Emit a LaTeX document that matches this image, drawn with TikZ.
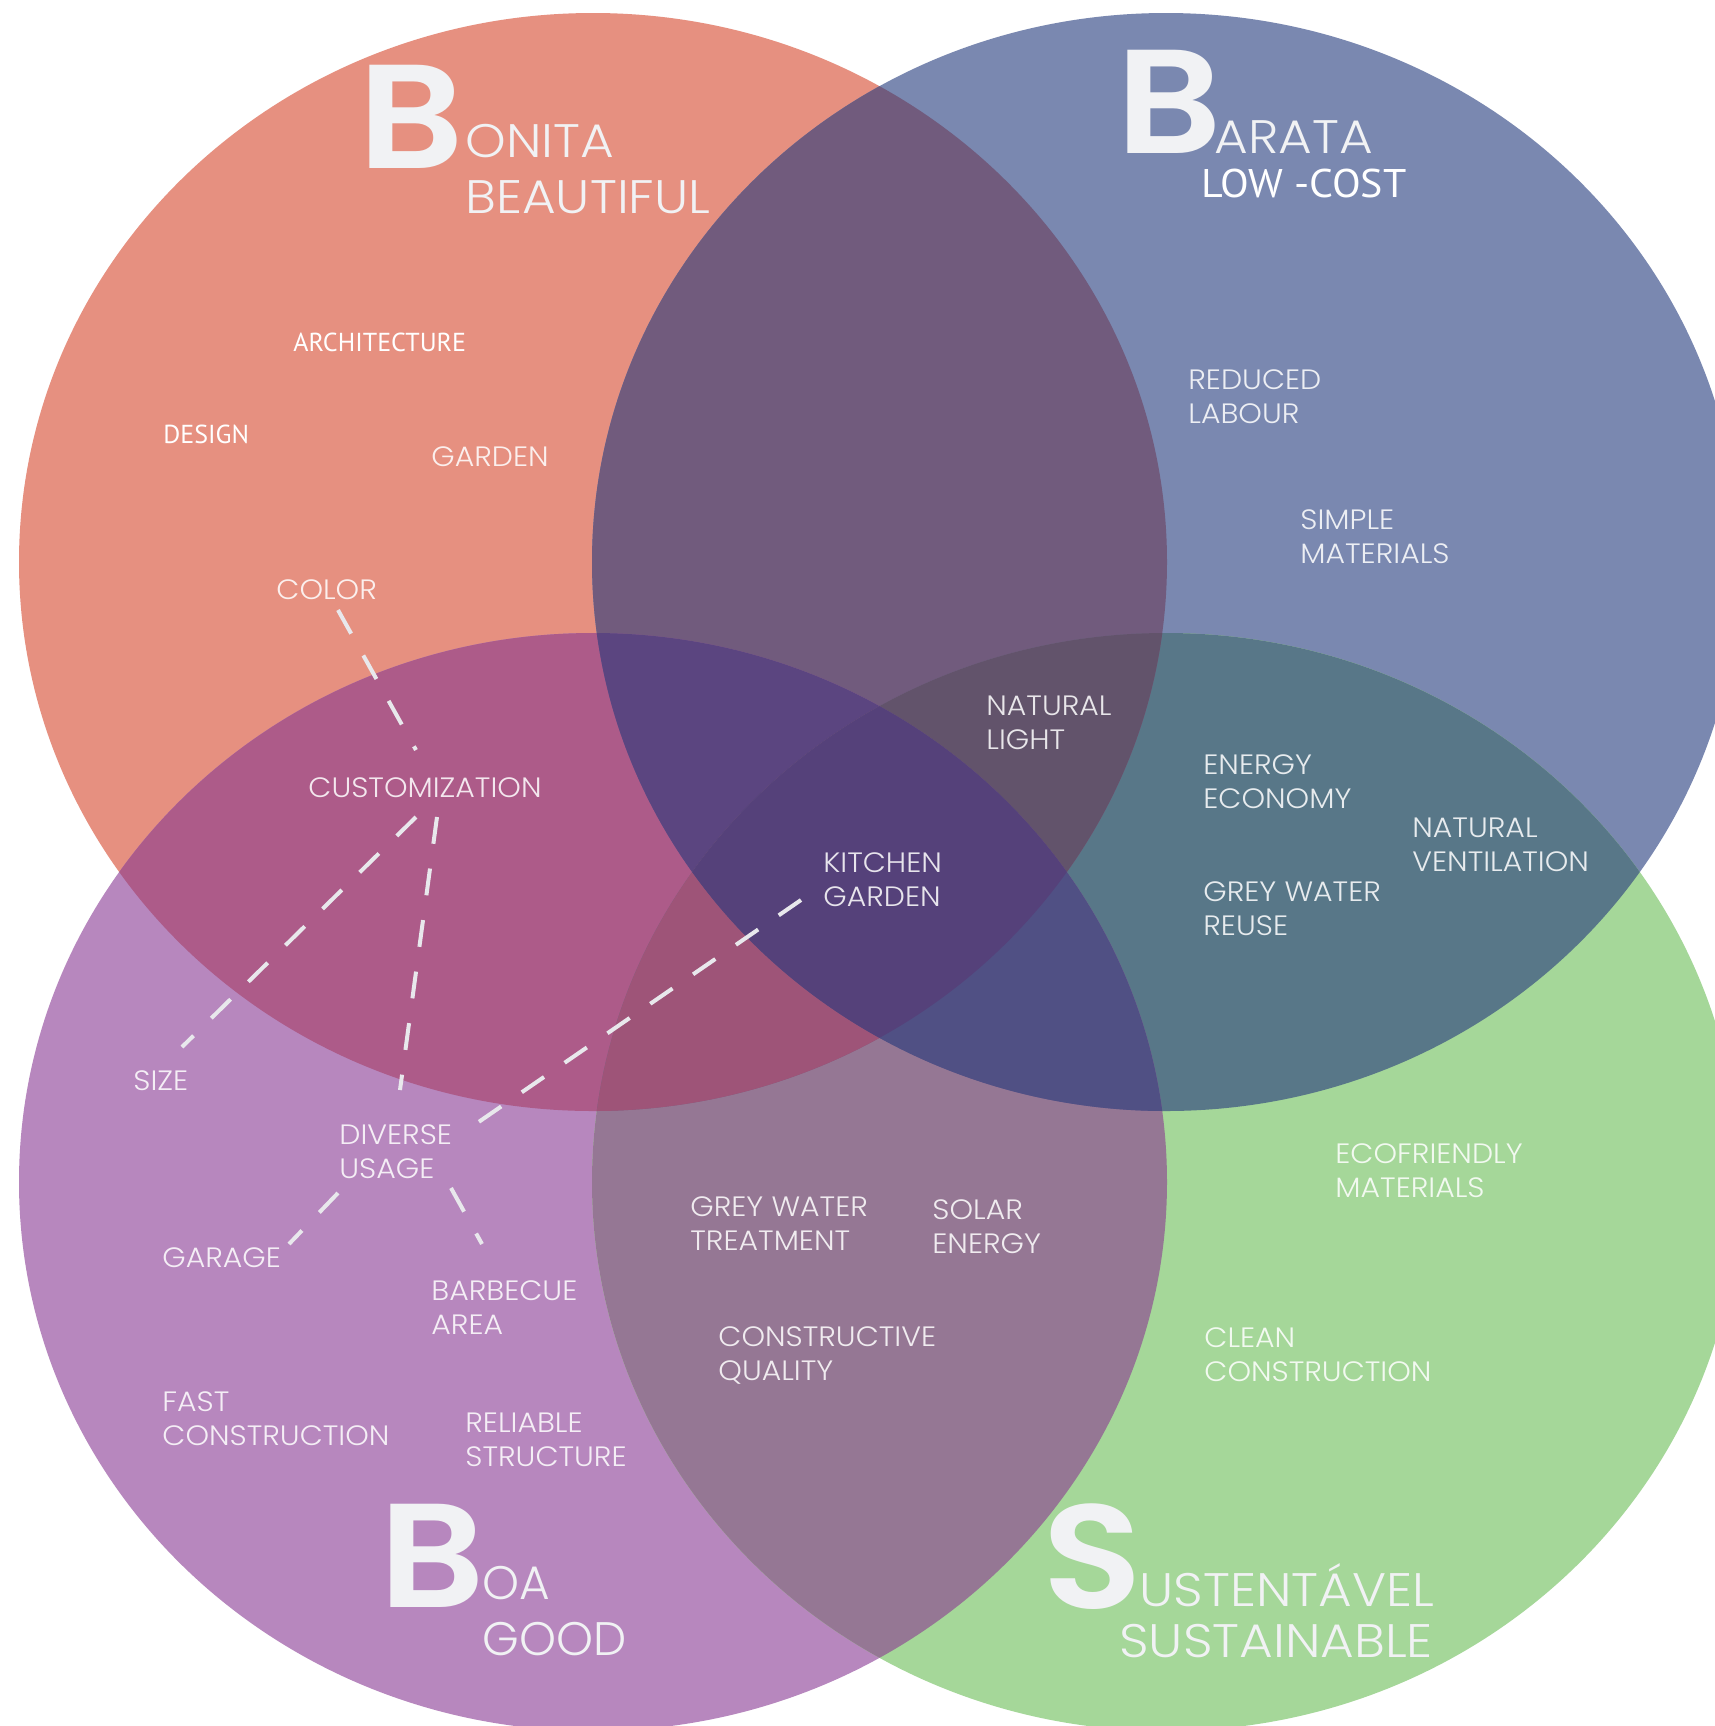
\documentclass[tikz,border=0pt]{standalone}
\usepackage{fontspec}
\newfontfamily\lightface{Poppins Light}[FakeStretch=1.07]
\newfontfamily\headface{Poppins Light}[FakeStretch=1.1]
\newfontfamily\headplain{Poppins Light}
\newfontfamily\heavyface{Poppins SemiBold}[FakeStretch=1.11]
\newfontfamily\plainface{PT Sans}
\newfontfamily\widefont{PT Sans}[FakeStretch=1.05]

% circle colours and the colours of their overlaps
\definecolor{cTL}{HTML}{E69080}
\definecolor{cTR}{HTML}{7A88B0}
\definecolor{cBL}{HTML}{B787BE}
\definecolor{cBR}{HTML}{A5D799}
\definecolor{cTLTR}{HTML}{715B7D}
\definecolor{cTLBL}{HTML}{AD5B89}
\definecolor{cTRBR}{HTML}{587788}
\definecolor{cBLBR}{HTML}{957794}
\definecolor{cTLBR}{HTML}{7E5A7E}
\definecolor{cTRBL}{HTML}{6A5A8E}
\definecolor{cTLTRBL}{HTML}{5B4580}
\definecolor{cTLTRBR}{HTML}{62536B}
\definecolor{cTLBLBR}{HTML}{9E5478}
\definecolor{cTRBLBR}{HTML}{505084}
\definecolor{cALL}{HTML}{55417A}
\definecolor{bigwhite}{HTML}{F1F2F4}
\definecolor{dashwhite}{HTML}{E8E8EC}

\newcommand\twoline[3][17pt]{\vtop{\baselineskip=#1\relax\hbox{#2}\hbox{#3}}}

% the four ellipses
\def\pTL{(593,562) ellipse [x radius=574, y radius=549]}
\def\pTR{(1166,562) ellipse [x radius=574, y radius=549]}
\def\pBL{(593,1182) ellipse [x radius=574, y radius=549]}
\def\pBR{(1166,1182) ellipse [x radius=574, y radius=549]}

\begin{document}
\begin{tikzpicture}[x=0.5pt,y=-0.5pt,
  lbl/.style={inner sep=0pt, anchor=base west, text=white, text opacity=0.86,
    font=\lightface\fontsize{14pt}{17pt}\selectfont},
  headlbl/.style={inner sep=0pt, anchor=base west, text=bigwhite,
    font=\headface\fontsize{23.5pt}{28pt}\selectfont},
  bigletter/.style={inner sep=0pt, anchor=base west, text=bigwhite,
    font=\heavyface\fontsize{74pt}{80pt}\selectfont},
  boldlbl/.style={inner sep=0pt, anchor=base west, text=white,
    font=\plainface\fontsize{13pt}{15pt}\selectfont},
  dashline/.style={draw=dashwhite, line width=2pt, dash pattern=on 13.5pt off 12.5pt}]

\useasboundingbox (0,0) rectangle (1715,1726);
\fill[white] (0,0) rectangle (1715,1726);
\clip (0,0) rectangle (1715,1726);

% single ellipses
\fill[cTL] \pTL;
\fill[cTR] \pTR;
\fill[cBL] \pBL;
\fill[cBR] \pBR;

% pairwise overlaps
\begin{scope}\clip \pTL; \fill[cTLTR] \pTR; \end{scope}
\begin{scope}\clip \pTL; \fill[cTLBL] \pBL; \end{scope}
\begin{scope}\clip \pTR; \fill[cTRBR] \pBR; \end{scope}
\begin{scope}\clip \pBL; \fill[cBLBR] \pBR; \end{scope}
\begin{scope}\clip \pTL; \fill[cTLBR] \pBR; \end{scope}
\begin{scope}\clip \pTR; \fill[cTRBL] \pBL; \end{scope}

% triple overlaps
\begin{scope}\clip \pTL; \clip \pTR; \fill[cTLTRBL] \pBL; \end{scope}
\begin{scope}\clip \pTL; \clip \pTR; \fill[cTLTRBR] \pBR; \end{scope}
\begin{scope}\clip \pTL; \clip \pBL; \fill[cTLBLBR] \pBR; \end{scope}
\begin{scope}\clip \pTR; \clip \pBL; \fill[cTRBLBR] \pBR; \end{scope}

% centre, inside all four
\begin{scope}\clip \pTL; \clip \pTR; \clip \pBL; \fill[cALL] \pBR; \end{scope}

% headings
\node[bigletter] (bB) at (358,168) {B};
\node[headlbl] (bonita) at (465,157) {\twoline[28pt]{ONITA}{BEAUTIFUL}};
\node[bigletter] (bA) at (1116,153) {B};
\node[headlbl] (barata) at (1214,153) {ARATA};
\node[inner sep=0pt, anchor=base west, text=white,
  font=\widefont\fontsize{20pt}{22pt}\selectfont] (lowcost) at (1201,197) {LOW -COST};
\node[bigletter] (bG) at (379,1607) {B};
\node[headlbl, font=\headplain\fontsize{23.5pt}{28pt}\selectfont] (boa) at (482,1599)
  {\twoline[28pt]{OA}{GOOD}};
\node[bigletter] (bS) at (1042,1608) {S};
\node[headlbl] (sustA) at (1139,1606) {USTENTÁVEL};
\node[headlbl] (sustB) at (1119,1657) {SUSTAINABLE};

% labels
\node[boldlbl] (arch) at (293,351) {ARCHITECTURE};
\node[boldlbl] (design) at (163,443) {DESIGN};
\node[lbl] (garden) at (431,466) {GARDEN};
\node[lbl] (color) at (276,599) {COLOR};
\node[lbl] (cust) at (308,797) {CUSTOMIZATION};
\node[lbl] (size) at (133,1090) {SIZE};
\node[lbl] (diverse) at (339,1144) {\twoline{DIVERSE}{USAGE}};
\node[lbl] (garage) at (162,1267) {GARAGE};
\node[lbl] (bbq) at (431,1300) {\twoline{BARBECUE}{AREA}};
\node[lbl] (fast) at (162,1411) {\twoline{FAST}{CONSTRUCTION}};
\node[lbl] (reliable) at (465,1432) {\twoline{RELIABLE}{STRUCTURE}};
\node[lbl] (reduced) at (1188,389) {\twoline{REDUCED}{LABOUR}};
\node[lbl] (simple) at (1300,529) {\twoline{SIMPLE}{MATERIALS}};
\node[lbl] (natlight) at (986,715) {\twoline{NATURAL}{LIGHT}};
\node[lbl] (energy) at (1203,774) {\twoline{ENERGY}{ECONOMY}};
\node[lbl] (natvent) at (1412,837) {\twoline{NATURAL}{VENTILATION}};
\node[lbl] (greyreuse) at (1203,901) {\twoline{GREY WATER}{REUSE}};
\node[lbl] (kitchen) at (823,872) {\twoline{KITCHEN}{GARDEN}};
\node[lbl] (greytreat) at (690,1216) {\twoline{GREY WATER}{TREATMENT}};
\node[lbl] (solar) at (932,1219) {\twoline{SOLAR}{ENERGY}};
\node[lbl] (constr) at (718,1346) {\twoline{CONSTRUCTIVE}{QUALITY}};
\node[lbl] (eco) at (1335,1163) {\twoline{ECOFRIENDLY}{MATERIALS}};
\node[lbl] (clean) at (1204,1347) {\twoline{CLEAN}{CONSTRUCTION}};

% ends of the dashed links
\coordinate (colorEnd) at (338,610);
\coordinate (custTop) at (416,750);
\coordinate (custLeft) at (416,817);
\coordinate (sizeEnd) at (182,1047);
\coordinate (custMid) at (437,817);
\coordinate (diverseTop) at (400,1090);
\coordinate (diverseRight) at (467,1130);
\coordinate (kitchenEnd) at (801,900);
\coordinate (diverseLeft) at (338,1193);
\coordinate (garageEnd) at (289,1244);
\coordinate (diverseLow) at (451,1188);
\coordinate (bbqEnd) at (482,1244);

% dashed links
\draw[dashline] (colorEnd) -- (custTop);
\draw[dashline] (custLeft) -- (sizeEnd);
\draw[dashline] (custMid) -- (diverseTop);
\draw[dashline] (kitchenEnd) -- (diverseRight);
\draw[dashline] (diverseLeft) -- (garageEnd);
\draw[dashline] (diverseLow) -- (bbqEnd);
\end{tikzpicture}
\end{document}
